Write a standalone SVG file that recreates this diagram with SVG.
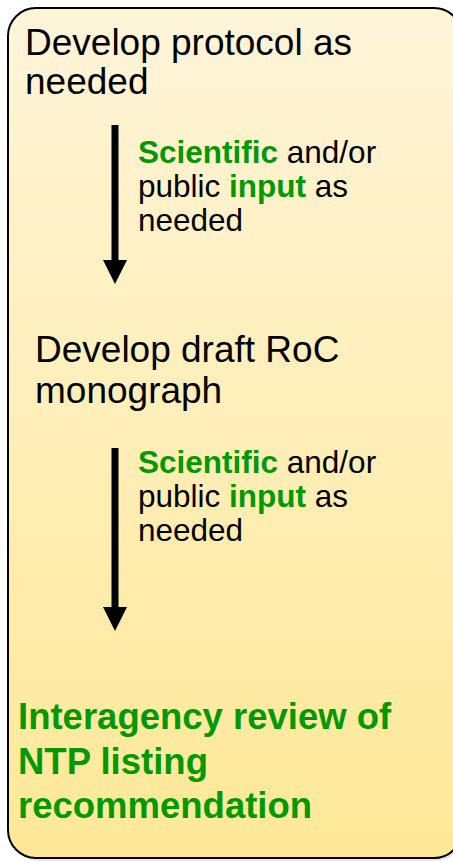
<svg xmlns="http://www.w3.org/2000/svg" width="453" height="861" viewBox="0 0 453 861">
<defs>
<linearGradient id="bg" x1="0" y1="0" x2="0" y2="1">
<stop offset="0" stop-color="#FFF5D9"/>
<stop offset="1" stop-color="#FFE897"/>
</linearGradient>
<style>
.t{font-family:"Liberation Sans",Arial,sans-serif;fill:#000}
.big{font-size:37px}
.bb{font-size:36.5px}
.sm{font-size:31.5px}
.g{fill:#009900;font-weight:bold}
.arrow{stroke:#000;stroke-width:7;fill:none}
</style>
</defs>
<rect width="453" height="861" fill="#fff"/>
<g id="panel">
<rect x="10" y="11" width="454" height="850" rx="28" fill="#d8d8d8" opacity="0.6"/>
<rect x="8" y="8" width="454" height="850" rx="28" fill="url(#bg)" stroke="#000" stroke-width="2"/>
</g>
<g id="connectors">
<line class="arrow" x1="115" y1="125" x2="115" y2="262"/>
<path d="M103,260 L127,260 L115,284 Z" fill="#000"/>
<line class="arrow" x1="115" y1="448" x2="115" y2="609"/>
<path d="M103,607 L127,607 L115,631 Z" fill="#000"/>
</g>
<g id="node-protocol">
<text class="t big" x="25" y="55">Develop protocol as</text>
<text class="t big" x="25" y="94">needed</text>
</g>
<g id="label-input-1">
<text class="t sm" x="138" y="163"><tspan class="g">Scientific</tspan> and/or</text>
<text class="t sm" x="138" y="197">public <tspan class="g">input</tspan> as</text>
<text class="t sm" x="138" y="231">needed</text>
</g>
<g id="node-draft">
<text class="t big" x="35" y="362">Develop draft RoC</text>
<text class="t big" x="35" y="403">monograph</text>
</g>
<g id="label-input-2">
<text class="t sm" x="138" y="473"><tspan class="g">Scientific</tspan> and/or</text>
<text class="t sm" x="138" y="507">public <tspan class="g">input</tspan> as</text>
<text class="t sm" x="138" y="541">needed</text>
</g>
<g id="node-interagency">
<text class="t bb g" x="18" y="729">Interagency review of</text>
<text class="t bb g" x="18" y="774">NTP listing</text>
<text class="t bb g" x="18" y="818">recommendation</text>
</g>
</svg>
